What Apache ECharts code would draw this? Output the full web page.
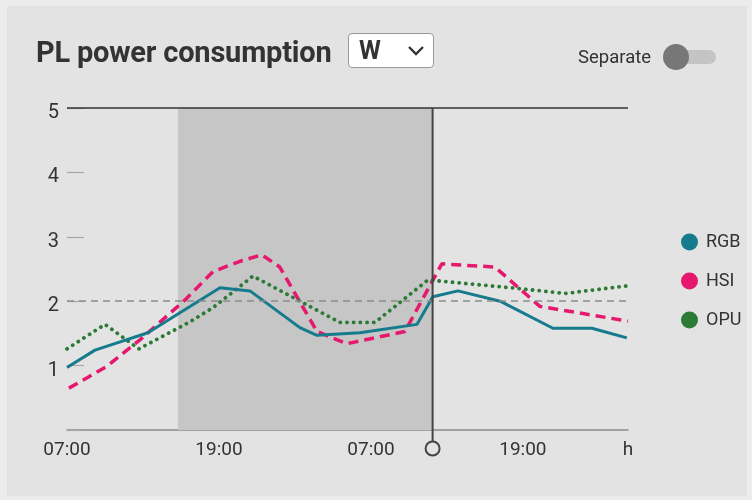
<!DOCTYPE html>
<html>
<head>
<meta charset="utf-8">
<script src="https://cdn.jsdelivr.net/npm/echarts@6/dist/echarts.min.js"></script>
<style>
  html,body{margin:0;padding:0;background:#ececec;font-family:Roboto,"Noto Sans",sans-serif;}
  #card{position:absolute;left:7px;top:6px;width:740px;height:490px;background:#e3e3e3;}
  #chart{position:absolute;left:0;top:0;width:752px;height:500px;}
  #title{position:absolute;left:36px;top:35px;font-size:29px;font-weight:bold;color:#333;letter-spacing:-0.2px;}
  #sel{position:absolute;left:348px;top:33px;width:86px;height:35px;background:#fff;border:1px solid #999;border-radius:4px;box-sizing:border-box;}
  #sel span{position:absolute;left:10px;top:2px;font-size:25px;font-weight:bold;color:#333;}
  #sel svg{position:absolute;left:58px;top:11px;}
  #sep{position:absolute;left:578px;top:46px;font-size:18.5px;color:#333;}
  #track{position:absolute;left:668px;top:50px;width:48px;height:14px;border-radius:7px;background:#c4c4c4;}
  #knob{position:absolute;left:663px;top:44px;width:26px;height:26px;border-radius:13px;background:#777;}
</style>
</head>
<body>
<div id="card"></div>
<div id="chart"></div>
<div id="title">PL power consumption</div>
<div id="sel"><span>W</span><svg width="18" height="12"><polyline points="2,2 9,9 16,2" fill="none" stroke="#333" stroke-width="2.4"/></svg></div>
<div id="sep">Separate</div>
<div id="track"></div>
<div id="knob"></div>
<script>
// hours since the first 07:00 tick
const xTickLabels = ['07:00', '19:00', '07:00', '19:00'];
const yTickLabels = ['', '1', '2', '3', '4', '5'];
const seriesNames = ['RGB', 'HSI', 'OPU'];
const rgbData = [[0,0.97],[2.21,1.24],[6.39,1.51],[12.08,2.21],[14.45,2.16],[18.39,1.59],[19.74,1.47],[23.13,1.51],[27.63,1.64],[28.89,2.07],[30.87,2.16],[34.2,2.0],[38.37,1.58],[41.45,1.58],[44.21,1.43]];
const hsiData = [[0.15,0.65],[3.16,0.99],[5.76,1.40],[9.32,2.02],[11.53,2.46],[13.66,2.62],[15.39,2.72],[16.8,2.53],[19.74,1.53],[22.1,1.34],[26.68,1.53],[29.6,2.58],[33.79,2.53],[37.34,1.92],[44.29,1.69]];
const opuData = [[0,1.26],[3.0,1.64],[5.68,1.26],[9.71,1.68],[11.53,1.9],[14.68,2.39],[21.55,1.67],[24.32,1.67],[28.5,2.33],[35.53,2.2],[39.32,2.12],[44.29,2.24]];
const shadeRange = [8.76, 28.87];
const nowX = 28.87;
const refLineY = 2;
const xMax = 44.3;

const colors = ['#167b8c', '#e5186e', '#2c7a35'];
const chart = echarts.init(document.getElementById('chart'));
chart.setOption({
  backgroundColor: 'transparent',
  animation: false,
  color: colors,
  textStyle: {fontFamily: 'Roboto'},
  grid: {left: 67, right: 124, top: 108, bottom: 70},
  legend: {
    orient: 'vertical', left: 676, top: 228,
    icon: 'circle', itemWidth: 17, itemHeight: 17, itemGap: 21,
    textStyle: {fontSize: 18, color: '#333', padding: [0,0,0,3]},
    data: seriesNames
  },
  xAxis: {
    type: 'value', min: 0, max: xMax, interval: 12,
    axisLine: {lineStyle: {color: '#8a8a8a', width: 1.5}},
    axisTick: {show: false},
    splitLine: {show: false},
    axisLabel: {
      fontSize: 19, color: '#333', margin: 11,
      formatter: v => (Math.abs(v % 12) < 1e-6 ? xTickLabels[Math.round(v / 12)] : 'h')
    }
  },
  yAxis: {
    type: 'value', min: 0, max: 5, interval: 1,
    axisLine: {show: false},
    axisTick: {show: true, inside: true, length: 17, lineStyle: {color: '#a8a8a8', width: 1.2}},
    splitLine: {show: false},
    axisLabel: {
      color: '#333', margin: 8,
      formatter: v => yTickLabels[v] ? '{s|}\n{n|' + yTickLabels[v] + '}' : '',
      rich: {
        s: {fontSize: 10, lineHeight: 10},
        n: {fontSize: 20, lineHeight: 20, color: '#333', fontFamily: 'Roboto'}
      }
    }
  },
  series: [
    {
      name: 'RGB', type: 'line', data: rgbData, symbol: 'none',
      lineStyle: {width: 3, color: colors[0]}, z: 4,
      markArea: {silent: true, itemStyle: {color: '#c6c6c6'}, data: [[{xAxis: shadeRange[0]}, {xAxis: shadeRange[1]}]]},
      markLine: {
        silent: true, symbol: 'none', label: {show: false},
        data: [
          {yAxis: refLineY, lineStyle: {color: '#8c8c8c', type: [7, 5], width: 1.5}},
          {yAxis: 5, lineStyle: {color: '#333', type: 'solid', width: 1.5}}
        ]
      }
    },
    {
      name: 'HSI', type: 'line', data: hsiData, symbol: 'none', z: 3,
      lineStyle: {width: 3.5, color: colors[1], type: [10, 6]}
    },
    {
      name: 'OPU', type: 'line', data: opuData, symbol: 'none', z: 3,
      lineStyle: {width: 3.8, color: colors[2], type: [0.1, 6.6], cap: 'round'}
    }
  ]
});

const nowPx = chart.convertToPixel({xAxisIndex: 0}, nowX);
const gridTopPx = chart.convertToPixel({yAxisIndex: 0}, 5);
const gridBottomPx = chart.convertToPixel({yAxisIndex: 0}, 0);
chart.setOption({
  graphic: [
    {type: 'line', shape: {x1: nowPx, y1: gridTopPx, x2: nowPx, y2: gridBottomPx + 11.5}, style: {stroke: '#444', lineWidth: 2}, z: 10},
    {type: 'circle', shape: {cx: nowPx, cy: gridBottomPx + 18.5, r: 7}, style: {stroke: '#444', lineWidth: 2, fill: 'transparent'}, z: 10}
  ]
});
</script>
</body>
</html>
